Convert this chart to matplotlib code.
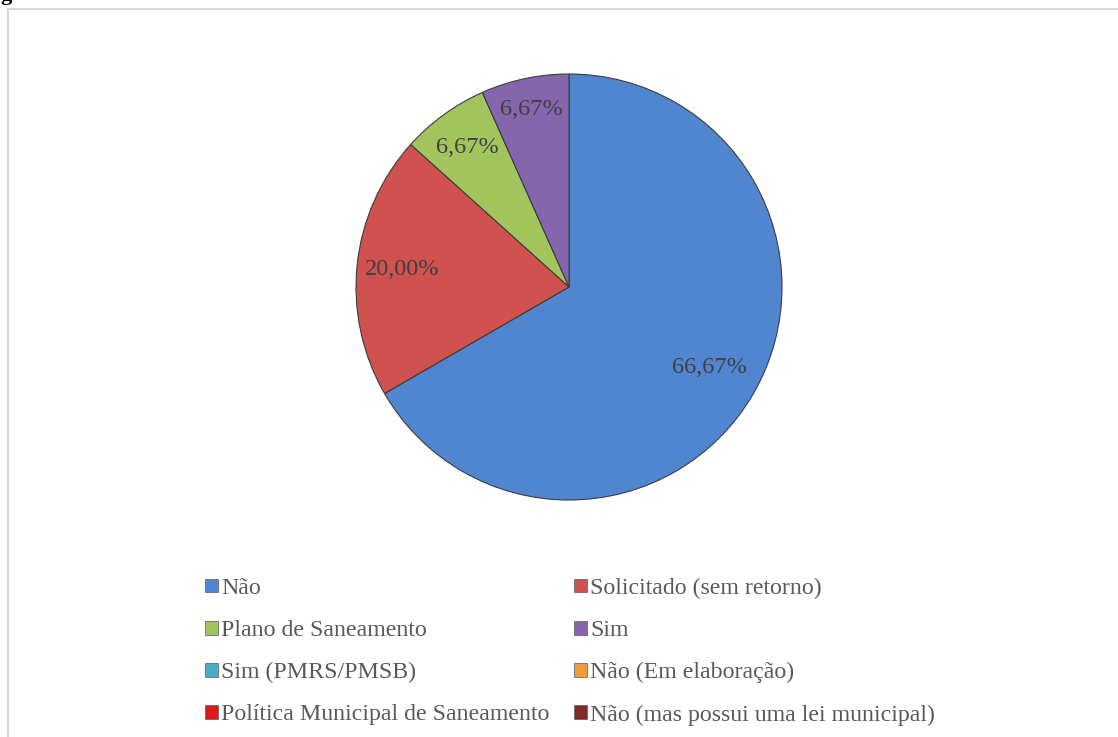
import matplotlib
matplotlib.use("Agg")
import numpy as np
import matplotlib.pyplot as plt
from matplotlib.patches import Patch
from matplotlib.lines import Line2D

# categories and counts (15 respostas)
categorias = ["Não", "Solicitado (sem retorno)", "Plano de Saneamento", "Sim",
              "Sim (PMRS/PMSB)", "Não (Em elaboração)",
              "Política Municipal de Saneamento", "Não (mas possui uma lei municipal)"]
contagens = [10, 3, 1, 1, 0, 0, 0, 0]
cores = ["#4F86CF", "#D0524E", "#A2C45C", "#8566AD",
         "#4BACC6", "#F39A3E", "#E01818", "#7E2B2B"]

plt.rcParams['font.family'] = ['Liberation Serif', 'DejaVu Serif']

fig = plt.figure(figsize=(11.18, 7.37), dpi=100)
W, H = 1118, 737

# chart border (partially visible)
fig.add_artist(Line2D([8 / W, 1], [1 - 9 / H, 1 - 9 / H], color="#d9d9d9", lw=1.5))
fig.add_artist(Line2D([8 / W, 8 / W], [0, 1 - 9 / H], color="#d9d9d9", lw=1.5))
fig.text(0.0, 1.0, "g", fontsize=16, fontweight="bold", va="baseline", ha="left")

# pie: centre (569, 287) px, radius 213 px
cx, cy, r = 569, 287, 213
ax = fig.add_axes([(cx - r) / W, (H - cy - r) / H, 2 * r / W, 2 * r / H])

vals = [v for v in contagens if v > 0]
cols = [c for v, c in zip(contagens, cores) if v > 0]


def fmt(p):
    return ("%.2f%%" % p).replace(".", ",")


wedges, textos, pcts = ax.pie(vals, colors=cols, startangle=90, counterclock=False,
                              autopct=fmt, pctdistance=0.8, radius=1,
                              wedgeprops=dict(edgecolor="#3c3c3c", linewidth=0.8),
                              textprops=dict(color="#404040", fontsize=17.5))

# label distances as placed in the original
dist = [0.76, 0.79, 0.81, 0.85]
for w, t, d in zip(wedges, pcts, dist):
    ang = np.deg2rad((w.theta1 + w.theta2) / 2)
    t.set_position((d * np.cos(ang), d * np.sin(ang)))

ax.set_xlim(-1, 1)
ax.set_ylim(-1, 1)
ax.set_aspect("equal")
ax.axis("off")

# legend with all categories (two columns, row-wise)
ordem = [0, 2, 4, 6, 1, 3, 5, 7]
handles = [Patch(facecolor=cores[i], edgecolor="#5a5a5a", linewidth=0.5) for i in ordem]
labels = [categorias[i] for i in ordem]
fig.legend(handles, labels, ncol=2, loc="upper left",
           bbox_to_anchor=(205 / W, 1 - 578 / H), frameon=False,
           fontsize=17.2, labelcolor="#595959",
           handlelength=0.54, handleheight=0.5, handletextpad=0.15,
           labelspacing=0.88, columnspacing=1.0, borderpad=0, borderaxespad=0)

fig.savefig("out.png", dpi=100)
